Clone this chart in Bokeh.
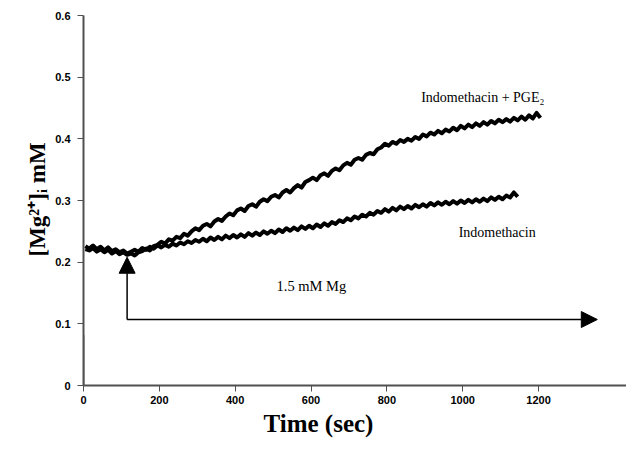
from bokeh.plotting import figure
from bokeh.models import Range1d, Arrow, NormalHead, Label, FixedTicker, Title
from bokeh.embed import file_html
from bokeh.resources import INLINE
import numpy as np

# ---- data ----
t0 = 5
dt = 10
pge2_mg = [
    .221, .219, .223, .217, .221, .216, .220, .214, .218, .213,
    .216, .212, .214, .211, .216, .218, .222, .219, .226, .228,
    .233, .230, .237, .235, .241, .239, .246, .243, .250, .255,
    .252, .259, .262, .258, .266, .270, .267, .274, .279, .276,
    .284, .287, .283, .291, .294, .290, .298, .302, .299, .306,
    .309, .305, .313, .317, .313, .320, .325, .321, .330, .333,
    .337, .333, .341, .344, .340, .348, .352, .349, .357, .361,
    .358, .366, .369, .366, .374, .377, .375, .383, .386, .392,
    .389, .395, .392, .398, .395, .400, .397, .403, .400, .407,
    .404, .410, .407, .413, .409, .415, .412, .418, .414, .421,
    .417, .423, .419, .425, .421, .427, .423, .429, .425, .431,
    .427, .432, .428, .434, .430, .436, .431, .438, .433, .442,
    .434,
]
indo_mg = [
    .226, .222, .227, .221, .225, .219, .224, .218, .221, .216,
    .219, .214, .217, .220, .217, .223, .220, .225, .222, .227,
    .224, .228, .225, .230, .227, .232, .229, .234, .231, .236,
    .233, .238, .234, .240, .236, .241, .237, .243, .239, .244,
    .240, .245, .241, .247, .243, .248, .244, .250, .246, .251,
    .247, .253, .249, .255, .251, .256, .252, .258, .254, .259,
    .255, .261, .257, .263, .259, .265, .262, .268, .265, .271,
    .268, .274, .271, .277, .274, .280, .277, .283, .280, .286,
    .282, .288, .284, .290, .286, .291, .287, .293, .289, .294,
    .290, .296, .292, .297, .293, .298, .294, .299, .295, .300,
    .296, .301, .297, .302, .298, .303, .299, .305, .301, .306,
    .302, .308, .305, .313, .306,
]
start_trace_t = [0, 0]
start_trace_mg = [0, 0.082]
x_ticks = [0, 200, 400, 600, 800, 1000, 1200]
y_ticks = [0, 0.1, 0.2, 0.3, 0.4, 0.5, 0.6]
y_tick_labels = {0: "0", 0.1: "0.1", 0.2: "0.2", 0.3: "0.3", 0.4: "0.4", 0.5: "0.5", 0.6: "0.6"}

mg_add_time = 115
arrow_level = 0.107
arrow_tip = 0.208
arrow_end_time = 1355

t_pge2 = t0 + dt * np.arange(len(pge2_mg))
t_indo = t0 + dt * np.arange(len(indo_mg))

p = figure(width=626, height=448, output_backend="svg", toolbar_location=None,
           x_range=Range1d(0, 1432), y_range=Range1d(0, 0.6),
           min_border_left=83, min_border_top=15, min_border_bottom=63, min_border_right=0)
p.outline_line_color = None
p.xgrid.visible = False
p.ygrid.visible = False
p.background_fill_color = "white"
p.border_fill_color = "white"

for ax in (p.xaxis[0], p.yaxis[0]):
    ax.axis_line_color = "#505050"
    ax.axis_line_width = 2
    ax.major_tick_line_color = "#505050"
    ax.major_tick_line_width = 1
    ax.major_tick_in = 0
    ax.major_tick_out = 6
    ax.minor_tick_line_color = None
    ax.major_label_text_font = "Liberation Sans"
    ax.major_label_text_font_style = "bold"
    ax.major_label_text_font_size = "11px"
    ax.major_label_text_color = "black"

p.xaxis.ticker = FixedTicker(ticks=x_ticks)
p.yaxis.ticker = FixedTicker(ticks=y_ticks)
p.yaxis.major_label_overrides = y_tick_labels
p.xaxis.major_label_standoff = 4
p.yaxis.major_label_standoff = 7

p.add_layout(Title(text="Time (sec)", align="left", offset=180, standoff=3,
                   text_font="Liberation Serif", text_font_style="bold",
                   text_font_size="25px", text_color="black"), "below")
p.add_layout(Title(text="[Mg²⁺]ᵢ mM", align="left", offset=129, standoff=5,
                   text_font="Liberation Serif", text_font_style="bold",
                   text_font_size="23px", text_color="black"), "left")

p.line(start_trace_t, start_trace_mg, line_color="black", line_width=1.5)
p.line(t_pge2, pge2_mg, line_color="black", line_width=4, line_join="round")
p.line(t_indo, indo_mg, line_color="black", line_width=4, line_join="round")

p.add_layout(Arrow(end=NormalHead(size=16, fill_color="black", line_color="black"),
                   x_start=mg_add_time, y_start=arrow_level, x_end=mg_add_time, y_end=arrow_tip,
                   line_color="black", line_width=1.5))
p.add_layout(Arrow(end=NormalHead(size=16, fill_color="black", line_color="black"),
                   x_start=mg_add_time, y_start=arrow_level, x_end=arrow_end_time, y_end=arrow_level,
                   line_color="black", line_width=1.5))

def lab(x, y, txt, size="14px"):
    p.add_layout(Label(x=x, y=y, text=txt, text_font="Liberation Serif", text_font_size=size,
                       text_align="center", text_baseline="middle", text_color="black"))

lab(1053, 0.467, "Indomethacin + PGE₂")
lab(1091, 0.248, "Indomethacin")
lab(601, 0.161, "1.5 mM Mg", size="14.5px")

open("out.html", "w").write(file_html(p, INLINE))
